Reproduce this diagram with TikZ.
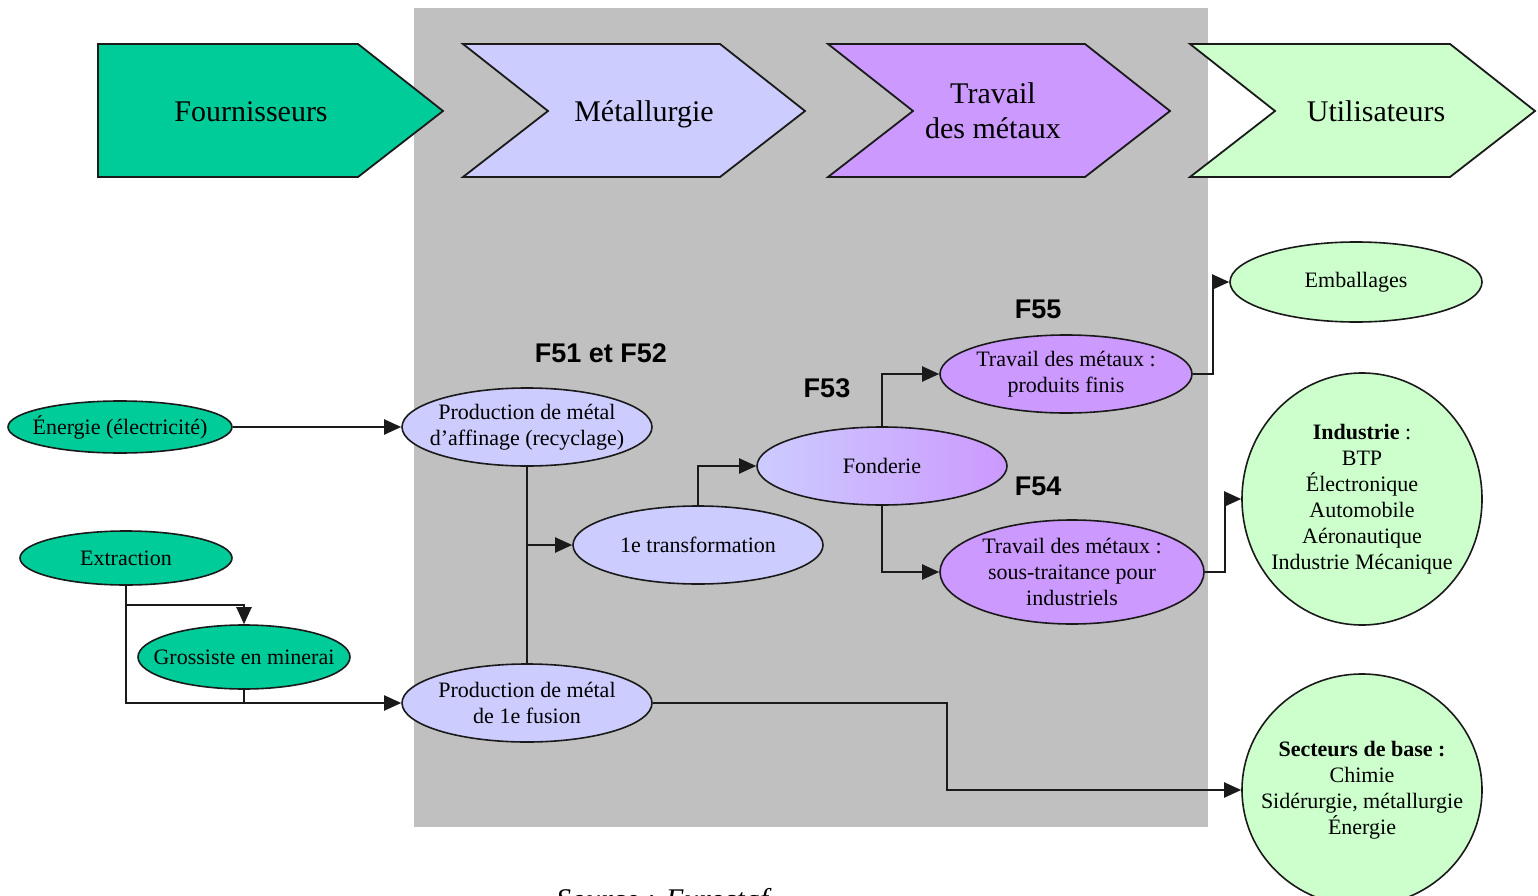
\documentclass[tikz,border=0pt]{standalone}
\usepackage{fontspec}
\setmainfont{Liberation Serif}
\newfontfamily\labfont{Liberation Sans}
\usetikzlibrary{shapes.geometric,arrows.meta}
\definecolor{tealg}{HTML}{00CC99}
\definecolor{lav}{HTML}{CCCCFF}
\definecolor{purp}{HTML}{CC99FF}
\definecolor{lgreen}{HTML}{CCFFCC}
\definecolor{bggray}{HTML}{C0C0C0}
\definecolor{ink}{HTML}{1A1A1A}
\begin{document}
\begin{tikzpicture}[x=1pt,y=-1pt,
  chev/.style={draw=ink, line width=1.8pt, line join=miter},
  headtxt/.style={font=\fontsize{30}{35}\selectfont, align=center, inner sep=0pt},
  ell/.style={ellipse, draw=ink, line width=1.6pt, inner sep=-25pt, font=\fontsize{22}{26}\selectfont, align=center},
  flab/.style={font=\labfont\bfseries\fontsize{27}{30}\selectfont, inner sep=0pt},
  conn/.style={draw=ink, line width=2pt},
  arr/.style={draw=ink, line width=2pt, -{Triangle[length=17pt,width=15pt]}}]
\clip (0,0) rectangle (1538,896);
\fill[white] (0,0) rectangle (1538,896);
\fill[bggray] (414,8) rectangle (1208,827);

% header chevrons
\draw[chev, fill=tealg] (98,44) -- (358,44) -- (443,111) -- (358,177) -- (98,177) -- cycle;
\node[headtxt, anchor=base] (fourn) at (251,122) {Fournisseurs};
\draw[chev, fill=lav] (463,44) -- (720,44) -- (805,111) -- (720,177) -- (463,177) -- (548,111) -- cycle;
\node[headtxt, anchor=base] (metal) at (644,122) {Métallurgie};
\draw[chev, fill=purp] (828,44) -- (1085,44) -- (1170,111) -- (1085,177) -- (828,177) -- (913,111) -- cycle;
\node[headtxt] (travail) at (993,111) {Travail\\des métaux};
\draw[chev, fill=lgreen] (1190,44) -- (1450,44) -- (1535,111) -- (1450,177) -- (1190,177) -- (1275,111) -- cycle;
\node[headtxt, anchor=base] (util) at (1376,122) {Utilisateurs};

% section labels
\node[flab] (f5152) at (601,353) {F51 et F52};
\node[flab] (f53) at (827,388) {F53};
\node[flab] (f54) at (1038,486) {F54};
\node[flab] (f55) at (1038,309) {F55};

% ellipses
\node[ell, fill=tealg, minimum width=224pt, minimum height=52pt] (energie) at (120,427) {Énergie (électricité)};
\node[ell, fill=tealg, minimum width=212pt, minimum height=54pt] (extraction) at (126,558) {Extraction};
\node[ell, fill=tealg, minimum width=212pt, minimum height=64pt] (grossiste) at (244,657) {Grossiste en minerai};
\node[ell, fill=lav, minimum width=250pt, minimum height=78pt] (affinage) at (527,427) {Production de métal\\d’affinage (recyclage)};
\node[ell, fill=lav, minimum width=250pt, minimum height=78pt] (fusion) at (527,703) {Production de métal\\de 1e fusion};
\node[ell, fill=lav, minimum width=250pt, minimum height=78pt] (transfo) at (698,545) {1e transformation};
\node[ell, left color=lav, right color=purp, minimum width=250pt, minimum height=78pt] (fonderie) at (882,466) {Fonderie};
\node[ell, fill=purp, minimum width=252pt, minimum height=78pt] (finis) at (1066,374) {Travail des métaux :\\produits finis};
\node[ell, fill=purp, minimum width=264pt, minimum height=104pt] (sous) at (1072,572) {Travail des métaux :\\sous-traitance pour\\industriels};
\node[ell, fill=lgreen, minimum width=252pt, minimum height=80pt] (emball) at (1356,282) {Emballages};
\node[ell, fill=lgreen, minimum width=240pt, minimum height=252pt] (indus) at (1362,499) {\textbf{Industrie} :\\BTP\\Électronique\\Automobile\\Aéronautique\\Industrie Mécanique};
\node[ell, fill=lgreen, minimum width=240pt, minimum height=232pt] (secteurs) at (1362,790) {\textbf{Secteurs de base :}\\Chimie\\Sidérurgie, métallurgie\\Énergie};

% connectors
\coordinate (extjoin) at (126,605);
\coordinate (bend) at (947,0);
\draw[arr] (energie.east) -- (affinage.west);
\draw[arr] (extraction.south) |- (fusion.west);
\draw[arr] (extjoin) -| (grossiste.north);
\draw[conn] (grossiste.south) -- (grossiste.south |- fusion.west);
\draw[conn] (affinage.south) -- (fusion.north);
\draw[arr] (affinage.south |- transfo.west) -- (transfo.west);
\draw[arr] (transfo.north) |- (fonderie.west);
\draw[arr] (fonderie.north) |- (finis.west);
\draw[arr] (fonderie.south) |- (sous.west);
\draw[arr] (finis.east) -- ++(20,0) |- (emball.west);
\draw[arr] (sous.east) -- ++(20,0) |- (indus.west);
\draw[arr] (fusion.east) -| (bend |- secteurs.west) -- (secteurs.west);

% source line, cut by the lower edge as in the reference
\node[font=\itshape\fontsize{30}{36}\selectfont, anchor=base west, inner sep=0pt] (src) at (556,909) {Source : Eurostaf};
\end{tikzpicture}
\end{document}
